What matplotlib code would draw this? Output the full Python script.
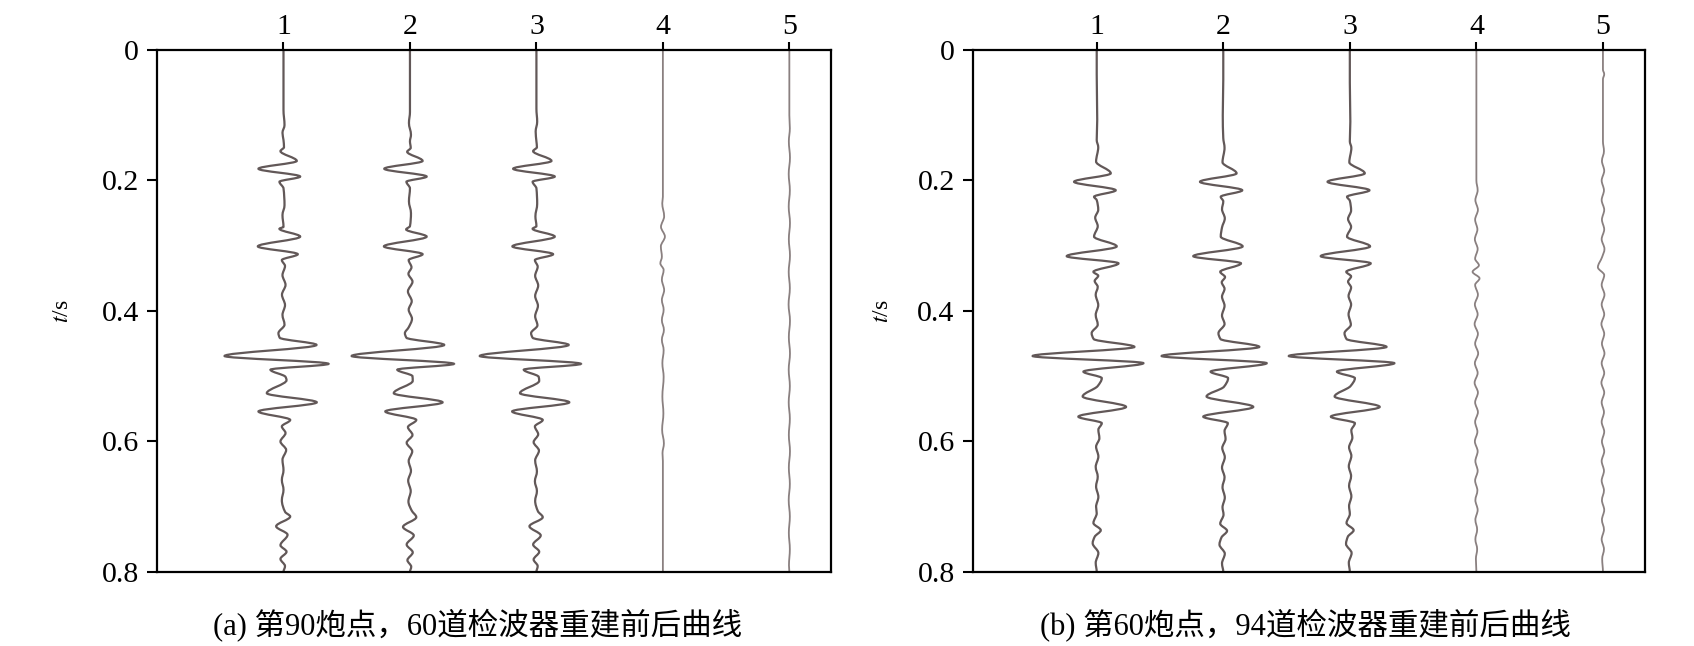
import matplotlib.pyplot as plt
from matplotlib.path import Path
from matplotlib.patches import PathPatch

plt.rcParams['font.family'] = ['Liberation Serif', 'Noto Sans CJK SC']
plt.rcParams['mathtext.fontset'] = 'stix'

# posicoes dos tracos e eixo do tempo
tracos_x = [1, 2, 3, 4, 5]
tempo_ticks = [0, 0.2, 0.4, 0.6, 0.8]
tempo_labels = ['0', '0.2', '0.4', '0.6', '0.8']
legenda_a = '(a) 第90炮点，60道检波器重建前后曲线'
legenda_b = '(b) 第60炮点，94道检波器重建前后曲线'

# ---- painel (a): tempo (s) e amplitude (em unidades de espacamento entre tracos)
a1_t = [0.0, 0.092, 0.115, 0.127, 0.138, 0.149, 0.155, 0.170, 0.182, 0.194, 0.202, 0.212,
        0.238, 0.253, 0.271, 0.274, 0.286, 0.301, 0.313, 0.322, 0.331, 0.345, 0.360,
        0.375, 0.391, 0.406, 0.421, 0.434, 0.441, 0.452, 0.469, 0.481, 0.490, 0.501,
        0.506, 0.526, 0.540, 0.554, 0.567, 0.577, 0.587, 0.600, 0.613, 0.628, 0.644,
        0.659, 0.674, 0.690, 0.708, 0.715, 0.730, 0.743, 0.759, 0.769, 0.780, 0.791, 0.800]
a1_amp = [0, 0, 0.008, -0.008, 0, 0.004, -0.024, 0.105, -0.198, 0.132, -0.032, 0,
          0.008, -0.008, 0, -0.032, 0.132, -0.203, 0.113, -0.013, 0.012, -0.008, 0.016,
          -0.012, 0.012, -0.008, 0.008, -0.040, -0.030, 0.261, -0.466, 0.356, -0.103, 0.016,
          0.024, -0.132, 0.263, -0.198, 0.053, -0.013, 0.016, -0.024, 0.021, -0.008, 0,
          -0.013, 0, -0.013, 0.013, 0.053, -0.058, 0.032, -0.024, 0.024, -0.024, 0.012, 0]

a2_t = [0.0, 0.095, 0.112, 0.130, 0.140, 0.150, 0.156, 0.170, 0.182, 0.194, 0.202, 0.212,
        0.232, 0.250, 0.270, 0.275, 0.286, 0.301, 0.313, 0.322, 0.333, 0.343, 0.355,
        0.370, 0.385, 0.398, 0.412, 0.425, 0.434, 0.441, 0.452, 0.469, 0.481, 0.490, 0.500,
        0.507, 0.526, 0.540, 0.554, 0.567, 0.578, 0.590, 0.602, 0.615, 0.630, 0.645,
        0.660, 0.676, 0.692, 0.706, 0.716, 0.731, 0.744, 0.758, 0.770, 0.782, 0.792, 0.800]
a2_amp = [0, 0, -0.008, 0.008, 0, 0.006, -0.022, 0.100, -0.203, 0.132, -0.028, 0,
          -0.008, 0.008, 0, -0.030, 0.132, -0.206, 0.100, -0.010, 0.012, -0.012, 0.020,
          -0.016, 0.014, -0.010, 0.016, -0.010, -0.040, -0.028, 0.271, -0.461, 0.348, -0.100,
          0.020, 0.022, -0.128, 0.258, -0.195, 0.050, -0.016, 0.020, -0.026, 0.018, -0.010,
          0.008, -0.014, 0.006, -0.012, 0.014, 0.050, -0.055, 0.030, -0.026, 0.022, -0.020,
          0.010, 0]

a3_t = [0.0, 0.090, 0.110, 0.125, 0.140, 0.149, 0.155, 0.170, 0.182, 0.194, 0.202, 0.212,
        0.236, 0.255, 0.270, 0.274, 0.286, 0.301, 0.313, 0.322, 0.332, 0.346, 0.361,
        0.377, 0.392, 0.408, 0.422, 0.434, 0.441, 0.452, 0.469, 0.481, 0.490, 0.501,
        0.507, 0.526, 0.540, 0.554, 0.567, 0.577, 0.589, 0.601, 0.614, 0.629, 0.646,
        0.661, 0.676, 0.691, 0.707, 0.716, 0.730, 0.744, 0.758, 0.769, 0.781, 0.791, 0.800]
a3_amp = [0, 0, 0.006, -0.006, 0, 0.004, -0.026, 0.119, -0.184, 0.145, -0.030, 0,
          0.006, -0.008, 0, -0.030, 0.145, -0.190, 0.132, -0.012, 0.010, -0.010, 0.014,
          -0.010, 0.012, -0.010, 0.008, -0.042, -0.030, 0.255, -0.448, 0.352, -0.100, 0.018,
          0.022, -0.130, 0.260, -0.192, 0.050, -0.012, 0.014, -0.022, 0.020, -0.010, 0.004,
          -0.012, 0.004, -0.010, 0.012, 0.050, -0.055, 0.034, -0.026, 0.022, -0.022, 0.010, 0]

a4_t = [0.0, 0.225, 0.235, 0.255, 0.271, 0.286, 0.301, 0.317, 0.327, 0.337, 0.352,
        0.368, 0.383, 0.398, 0.414, 0.429, 0.444, 0.460, 0.480, 0.501, 0.531, 0.557,
        0.582, 0.603, 0.618, 0.630, 0.800]
a4_amp = [0, 0, -0.005, 0.010, -0.015, 0.016, -0.016, -0.008, -0.020, 0.006, -0.008,
          0.010, -0.008, 0.006, -0.008, 0.008, -0.008, 0.006, -0.004, 0.006, -0.004, 0.004,
          -0.006, 0.008, -0.003, 0, 0]

a5_t = [0.0, 0.100, 0.120, 0.140, 0.165, 0.190, 0.215, 0.240, 0.265, 0.290, 0.315,
        0.340, 0.365, 0.390, 0.415, 0.440, 0.465, 0.490, 0.515, 0.540, 0.565, 0.590,
        0.615, 0.640, 0.665, 0.690, 0.715, 0.740, 0.765, 0.790, 0.800]
a5_amp = [0, 0, 0.004, -0.004, 0.005, -0.005, 0.004, -0.005, 0.005, -0.004, 0.005,
          -0.005, 0.004, -0.006, 0.005, -0.004, 0.005, -0.005, 0.004, -0.005, 0.004, -0.004,
          0.005, -0.004, 0.004, -0.005, 0.004, -0.004, 0.004, -0.003, 0]

# ---- painel (b)
b1_t = [0.0, 0.037, 0.107, 0.138, 0.149, 0.171, 0.189, 0.202, 0.215, 0.225, 0.230,
        0.245, 0.257, 0.270, 0.286, 0.301, 0.316, 0.327, 0.340, 0.346, 0.354, 0.363,
        0.375, 0.391, 0.406, 0.421, 0.434, 0.443, 0.455, 0.469, 0.480, 0.493, 0.503,
        0.515, 0.531, 0.547, 0.562, 0.572, 0.582, 0.595, 0.608, 0.623, 0.639, 0.654,
        0.669, 0.685, 0.700, 0.710, 0.725, 0.736, 0.746, 0.756, 0.771, 0.786, 0.800]
b1_amp = [0, 0, 0.004, 0, 0.012, -0.005, 0.111, -0.179, 0.150, -0.021, 0,
          0.012, -0.012, 0.008, -0.021, 0.158, -0.237, 0.172, -0.026, 0.012, -0.016, 0.008,
          -0.008, 0.012, -0.008, 0.008, -0.040, -0.024, 0.298, -0.506, 0.369, -0.105, 0.040,
          0.008, -0.111, 0.232, -0.145, 0.040, 0.013, 0.021, -0.005, 0.013, -0.008, 0.008,
          -0.005, 0.013, -0.005, 0, -0.026, 0.032, -0.016, -0.032, 0.013, -0.008, 0]

b2_t = [0.0, 0.045, 0.100, 0.135, 0.150, 0.172, 0.189, 0.202, 0.215, 0.225, 0.232,
        0.244, 0.258, 0.272, 0.286, 0.301, 0.316, 0.327, 0.340, 0.348, 0.356, 0.366,
        0.378, 0.392, 0.407, 0.420, 0.434, 0.443, 0.455, 0.469, 0.480, 0.493, 0.503,
        0.516, 0.531, 0.547, 0.562, 0.572, 0.584, 0.596, 0.610, 0.624, 0.640, 0.655,
        0.670, 0.686, 0.701, 0.712, 0.726, 0.737, 0.747, 0.758, 0.772, 0.787, 0.800]
b2_amp = [0, 0, -0.004, 0, 0.010, -0.006, 0.105, -0.184, 0.150, -0.020, 0,
          -0.010, 0.012, -0.010, -0.020, 0.153, -0.237, 0.140, -0.024, 0.014, -0.012, 0.010,
          -0.010, 0.010, -0.010, 0.010, -0.038, -0.022, 0.285, -0.487, 0.343, -0.100, 0.038,
          0.006, -0.132, 0.237, -0.158, 0.036, 0.010, 0.018, -0.008, 0.012, -0.010, 0.010,
          -0.006, 0.012, -0.006, 0.002, -0.024, 0.030, -0.014, -0.030, 0.012, -0.010, 0]

b3_t = [0.0, 0.050, 0.110, 0.140, 0.150, 0.172, 0.189, 0.202, 0.215, 0.225, 0.231,
        0.246, 0.259, 0.271, 0.286, 0.301, 0.316, 0.327, 0.340, 0.347, 0.355, 0.364,
        0.377, 0.390, 0.405, 0.421, 0.434, 0.443, 0.455, 0.469, 0.480, 0.493, 0.503,
        0.515, 0.531, 0.547, 0.562, 0.572, 0.583, 0.594, 0.609, 0.622, 0.638, 0.653,
        0.668, 0.684, 0.699, 0.711, 0.725, 0.736, 0.746, 0.757, 0.771, 0.786, 0.800]
b3_amp = [0, 0, 0.004, 0, 0.012, -0.004, 0.118, -0.176, 0.155, -0.022, 0,
          0.010, -0.014, 0.010, -0.022, 0.160, -0.230, 0.165, -0.028, 0.010, -0.014, 0.010,
          -0.010, 0.010, -0.010, 0.008, -0.042, -0.026, 0.290, -0.482, 0.352, -0.102, 0.040,
          0.006, -0.120, 0.236, -0.150, 0.040, 0.012, 0.020, -0.006, 0.012, -0.008, 0.010,
          -0.006, 0.012, -0.006, 0, -0.026, 0.030, -0.016, -0.030, 0.014, -0.008, 0]

b4_t = [0.0, 0.200, 0.215, 0.230, 0.245, 0.260, 0.275, 0.290, 0.305, 0.320, 0.330,
        0.340, 0.350, 0.360, 0.375, 0.390, 0.405, 0.420, 0.435, 0.450, 0.465, 0.480,
        0.495, 0.510, 0.525, 0.540, 0.555, 0.570, 0.585, 0.600, 0.615, 0.630, 0.645,
        0.660, 0.675, 0.690, 0.705, 0.720, 0.735, 0.750, 0.765, 0.780, 0.800]
b4_amp = [0, 0, 0.010, -0.008, 0.012, -0.010, 0.008, -0.012, 0.010, -0.010, 0.020,
          -0.030, 0.025, -0.010, 0.012, -0.012, 0.010, -0.014, 0.012, -0.010, 0.014, -0.012,
          0.010, -0.014, 0.012, -0.010, 0.012, -0.010, 0.008, -0.012, 0.010, -0.008, 0.010,
          -0.010, 0.008, -0.008, 0.010, -0.008, 0.006, -0.008, 0.006, -0.004, 0]

b5_t = [0.0, 0.030, 0.037, 0.045, 0.140, 0.155, 0.170, 0.185, 0.200, 0.215, 0.230,
        0.245, 0.260, 0.275, 0.290, 0.305, 0.318, 0.333, 0.345, 0.360, 0.375, 0.390,
        0.405, 0.420, 0.435, 0.450, 0.465, 0.480, 0.495, 0.510, 0.525, 0.540, 0.555,
        0.570, 0.585, 0.600, 0.615, 0.630, 0.645, 0.660, 0.675, 0.690, 0.705, 0.720,
        0.735, 0.750, 0.765, 0.780, 0.800]
b5_amp = [0, 0, 0.010, 0, 0, 0.008, -0.008, 0.010, -0.010, 0.008, -0.010,
          0.010, -0.008, 0.010, -0.010, 0.012, -0.008, -0.040, 0.010, -0.010, 0.012, -0.010,
          0.010, -0.012, 0.010, -0.008, 0.012, -0.010, 0.010, -0.012, 0.010, -0.010, 0.008,
          -0.010, 0.010, -0.008, 0.010, -0.010, 0.008, -0.010, 0.008, -0.008, 0.010, -0.008,
          0.008, -0.010, 0.008, -0.006, 0]

paineis = [
    ([0.0927, 0.1146, 0.3979, 0.8080], (0.0, 5.33),
     [(a1_t, a1_amp), (a2_t, a2_amp), (a3_t, a3_amp), (a4_t, a4_amp), (a5_t, a5_amp)],
     legenda_a, 478, 63),
    ([0.5742, 0.1146, 0.3967, 0.8080], (0.02, 5.33),
     [(b1_t, b1_amp), (b2_t, b2_amp), (b3_t, b3_amp), (b4_t, b4_amp), (b5_t, b5_amp)],
     legenda_b, 1305, 882),
]


# caminho Bezier passando pelos pontos (inclinacoes tipo PCHIP, zero nos extremos)
def caminho_suave(xs, ts):
    n = len(xs)
    h = [ts[k + 1] - ts[k] for k in range(n - 1)]
    d = [(xs[k + 1] - xs[k]) / h[k] for k in range(n - 1)]
    m = [0.0] * n
    for k in range(1, n - 1):
        if d[k - 1] * d[k] > 0:
            w1 = 2 * h[k] + h[k - 1]
            w2 = h[k] + 2 * h[k - 1]
            m[k] = (w1 + w2) / (w1 / d[k - 1] + w2 / d[k])
    verts = [(xs[0], ts[0])]
    codes = [Path.MOVETO]
    for k in range(n - 1):
        verts.append((xs[k] + m[k] * h[k] / 3, ts[k] + h[k] / 3))
        verts.append((xs[k + 1] - m[k + 1] * h[k] / 3, ts[k + 1] - h[k] / 3))
        verts.append((xs[k + 1], ts[k + 1]))
        codes += [Path.CURVE4] * 3
    return Path(verts, codes)


W, H = 1694, 646
fig = plt.figure(figsize=(W / 100, H / 100), dpi=100)

for pos, xlim, tracos, legenda, cx, ylx in paineis:
    ax = fig.add_axes(pos)
    for i, (t, amp) in enumerate(tracos):
        x0 = tracos_x[i]
        xs = [x0 + a for a in amp]
        if i < 3:
            cor, lw = '#625858', 1.6
        else:
            cor, lw = '#8a8080', 1.3
        ax.add_patch(PathPatch(caminho_suave(xs, t), fill=False, edgecolor=cor, lw=lw))
    ax.set_xlim(*xlim)
    ax.set_ylim(0.8, 0)
    ax.xaxis.tick_top()
    ax.set_xticks(tracos_x)
    ax.set_xticklabels([str(v) for v in tracos_x])
    ax.set_yticks(tempo_ticks)
    ax.set_yticklabels(tempo_labels)
    for s in ax.spines.values():
        s.set_linewidth(1.6)
    ax.tick_params(axis='x', direction='out', length=6, width=1.5, labelsize=21.5, pad=1.5)
    ax.tick_params(axis='y', direction='out', length=7, width=1.5, labelsize=21.5, pad=6)
    fig.text(ylx / W, 1 - 311 / H, '$t$/s', rotation=90, ha='center', va='center', fontsize=17)
    fig.text(cx / W, 1 - 626 / H, legenda, ha='center', va='center', fontsize=22)

fig.savefig('out.png', dpi=100)
